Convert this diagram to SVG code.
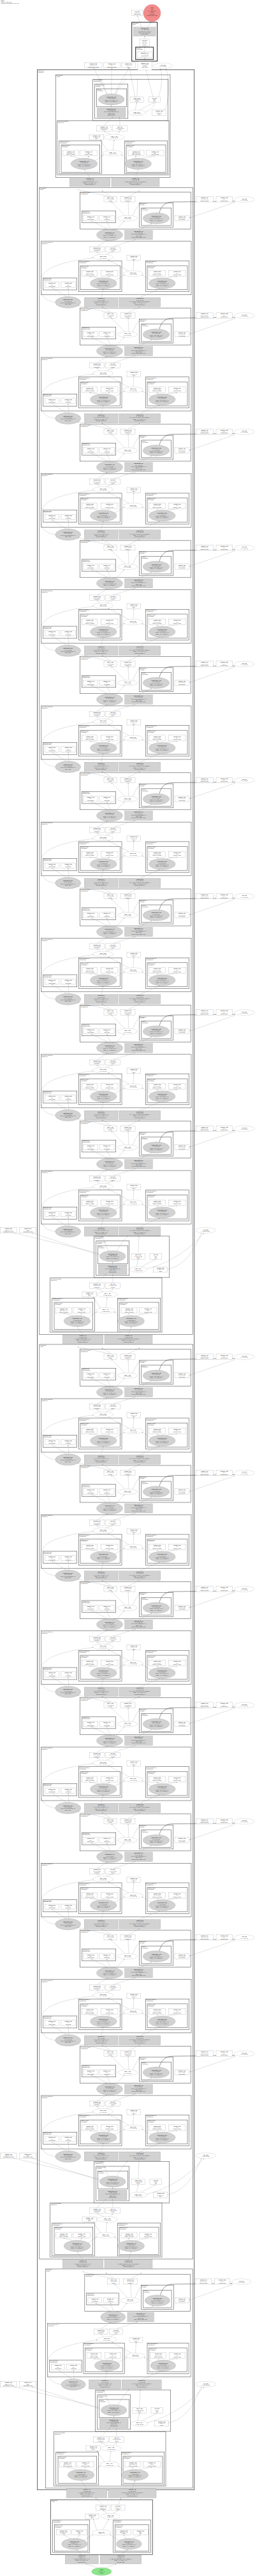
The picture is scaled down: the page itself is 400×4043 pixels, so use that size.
<svg xmlns="http://www.w3.org/2000/svg" width="400" height="4043" viewBox="0 0 400 4043">
<style>
.cl{fill:none;stroke:#555;stroke-width:.6}
.cm{fill:none;stroke:#444;stroke-width:.8}
.ck{fill:none;stroke:#222;stroke-width:1}
.bx{fill:#fff;stroke:#999;stroke-width:.3}
.gn{fill:#d2d2d2;stroke:#999;stroke-width:.3}
.wn{fill:#fff;stroke:#aaa;stroke-width:.3}
.ed path,path.ed{fill:none;stroke:#9a9a9a;stroke-width:.3;marker-end:url(#ah)}
.ed path.dk{stroke:#333;stroke-width:.5}
text{font-family:"Liberation Sans",Arial,sans-serif;fill:#222}
.t{font-size:1.9px;text-anchor:middle}
.b{font-weight:bold}
.lb{font-size:1.8px}
</style>
<defs>
<marker id="ah" viewBox="0 0 10 10" refX="9" refY="5" markerWidth="1.4" markerHeight="1.4" markerUnits="userSpaceOnUse" orient="auto"><path d="M0,1L10,5L0,9z" fill="#666"/></marker>

<g id="tA">
<rect class="cl" x="125.3" y="0" width="174" height="58"/>
<text class="lb"><tspan x="126.4" y="2.1">layer.block.residual</tspan><tspan x="126.4" y="4.1">(ResidualUnit)</tspan></text>
<rect class="cl" x="128.3" y="29.7" width="53.4" height="18.6"/>
<text class="lb"><tspan x="129.3" y="31.6">residual.norm</tspan><tspan x="129.3" y="33.5">(BatchNorm2d)</tspan></text>
<rect class="cl" x="218.3" y="17.3" width="53.4" height="37.7"/>
<text class="lb"><tspan x="219.3" y="19.2">residual.conv</tspan><tspan x="219.3" y="21.1">(Conv2d)</tspan></text>
<rect class="cl" x="221.7" y="25" width="46.6" height="27.7"/>
<text class="lb"><tspan x="222.7" y="26.9">conv.op</tspan><tspan x="222.7" y="28.8">(Conv2dOp)</tspan></text>
<g class="ed">
<path d="M173,7.3L122,-3.8"/><path d="M175,7.3L160,-1.9"/><path d="M200.5,7.3L219,-1.9"/>
<path d="M196,37L175,15.9"/><path d="M202,36.9L201,15.9"/>
<path d="M170,58.4L143,45.4"/><path d="M173,58.3L167.5,45.4"/><path d="M182,59.5L195,45.6"/>
<path d="M217.5,60L238,49.6"/>
<path class="dk" d="M250,32.8C252,24 258,15.7 270,15.7L368,14.6"/>
<path d="M370,15.8L297.5,40.5"/>
<path d="M208,37.4C212,29 215,22 220,17.8"/>
</g>
<g id="A_n1"><rect class="bx" x="163" y="7.3" width="20" height="8.4"/><text class="t"><tspan class="b" x="173" y="9.9">add_1_100</tspan><tspan x="173" y="12.2">(1, 64, 56, 56)</tspan><tspan x="173" y="14.5">Tensor</tspan></text></g>
<g id="A_n2"><rect class="bx" x="189" y="7.3" width="23" height="8.4"/><text class="t"><tspan class="b" x="200.5" y="9.9">Variable_101</tspan><tspan x="200.5" y="12.2">(1, 64, 56, 56)</tspan><tspan x="200.5" y="14.5">Parameter</tspan></text></g>
<g id="A_n3"><ellipse class="wn" cx="200" cy="41.3" rx="15.5" ry="4.5"/><text class="t"><tspan class="b" x="200" y="40.9">add_1_102</tspan><tspan x="200" y="43.2">(1, 64, 56, 56)</tspan></text></g>
<g id="A_n4"><rect class="bx" x="130.7" y="36.8" width="22.6" height="8.4"/><text class="t"><tspan class="b" x="142" y="39.4">Variable_103</tspan><tspan x="142" y="41.7">(64,)</tspan><tspan x="142" y="44">norm.weight</tspan></text></g>
<g id="A_n5"><rect class="bx" x="156" y="36.8" width="23.3" height="8.4"/><text class="t"><tspan class="b" x="167.6" y="39.4">Variable_104</tspan><tspan x="167.6" y="41.7">(64,)</tspan><tspan x="167.6" y="44">norm.bias</tspan></text></g>
<g id="A_n6"><ellipse class="gn" cx="245" cy="41.3" rx="20.7" ry="8.7"/><text class="t"><tspan class="b" x="245" y="38.4">Convolution_105</tspan><tspan x="245" y="40.7">(1, 64, 56, 56)</tspan><tspan x="245" y="43">kernel=(3, 3), pad=(1, 1)</tspan><tspan x="245" y="45.3">stride=(1, 1), groups=1</tspan></text></g>
<g id="A_n7"><rect class="bx" x="274" y="36.8" width="22.7" height="8.4"/><text class="t"><tspan class="b" x="285.3" y="39.4">Variable_106</tspan><tspan x="285.3" y="41.7">(64, 64, 3, 3)</tspan><tspan x="285.3" y="44">conv.weight</tspan></text></g>
<g id="A_n8"><rect class="bx" x="307.3" y="7.3" width="27" height="8.4"/><text class="t"><tspan class="b" x="320.8" y="9.9">Variable_107</tspan><tspan x="320.8" y="12.2">(64, 64, 1, 1)</tspan><tspan x="320.8" y="14.5">shortcut.weight</tspan></text></g>
<g id="A_n9"><rect class="bx" x="339" y="7.3" width="25.3" height="8.4"/><text class="t"><tspan class="b" x="351.6" y="9.9">Variable_108</tspan><tspan x="351.6" y="12.2">(64,)</tspan><tspan x="351.6" y="14.5">shortcut.bias</tspan></text></g>
<g id="A_n10"><ellipse class="wn" cx="383.3" cy="11.7" rx="16" ry="4.5"/><text class="t"><tspan class="b" x="383.3" y="11.3">relu_109</tspan><tspan x="383.3" y="13.6">(1, 64, 56, 56)</tspan></text></g>
<g id="A_n11"><ellipse class="gn" cx="172" cy="67.3" rx="20.5" ry="9"/><text class="t"><tspan class="b" x="172" y="64.4">Convolution_110</tspan><tspan x="172" y="66.7">(1, 64, 56, 56)</tspan><tspan x="172" y="69">kernel=(1, 1), pad=(0, 0)</tspan><tspan x="172" y="71.3">stride=(1, 1), groups=1</tspan></text></g>
<g id="A_n12"><rect class="gn" x="195.7" y="60" width="43.6" height="14.7"/><text class="t"><tspan class="b" x="217.5" y="62.5">BatchNorm_111</tspan><tspan x="217.5" y="64.8">(1, 64, 56, 56)</tspan><tspan x="217.5" y="67.1">eps=1e-05, momentum=0.1</tspan><tspan x="217.5" y="69.4">affine=True</tspan><tspan x="217.5" y="71.7">track_running_stats=True</tspan></text></g>
</g>

<g id="tB">
<rect class="cl" x="64.3" y="0" width="235.7" height="84"/>
<text class="lb"><tspan x="65.4" y="2.1">layer.block.bottleneck</tspan><tspan x="65.4" y="4.1">(Bottleneck)</tspan></text>
<rect class="cl" x="123.3" y="30.7" width="67.7" height="48.3"/>
<text class="lb"><tspan x="124.3" y="32.6">bottleneck.branch_a</tspan><tspan x="124.3" y="34.5">(ConvBranch)</tspan></text>
<rect class="cl" x="126" y="38.3" width="62.3" height="37.7"/>
<text class="lb"><tspan x="127" y="40.2">branch_a.conv</tspan><tspan x="127" y="42.1">(Conv2dOp)</tspan></text>
<rect class="cl" x="228.3" y="30.7" width="68.4" height="48.3"/>
<text class="lb"><tspan x="229.3" y="32.6">bottleneck.branch_b</tspan><tspan x="229.3" y="34.5">(ConvBranch)</tspan></text>
<rect class="cl" x="231" y="38.3" width="63" height="37.7"/>
<text class="lb"><tspan x="232" y="40.2">branch_b.conv</tspan><tspan x="232" y="42.1">(Conv2dOp)</tspan></text>
<rect class="cl" x="67.3" y="57.4" width="53.4" height="18.9"/>
<text class="lb"><tspan x="68.3" y="59.3">bottleneck.norm</tspan><tspan x="68.3" y="61.2">(BatchNorm2d)</tspan></text>
<g class="ed">
<path d="M152,8.4L168,-1.4"/><path d="M177,8.4L212,-2.5"/>
<path d="M157,20.8L152,16.9"/><path d="M166,20.7L177,16.9"/>
<path d="M202,46.4L170,29.3"/><path d="M209,46.2L209.8,30.2"/>
<path d="M156,57.6L140.7,55.2"/><path d="M168,57.6L171.7,55.2"/><path d="M180,61.5L195,53"/>
<path d="M249,57.6L246.3,55.2"/><path d="M260,57.6L277.7,55.2"/><path d="M238,61.5L223,53"/>
<path d="M104,86.8L81.5,72.6"/><path d="M108,86.8L107,72.6"/>
<path d="M88,96C66,93 63,82 64,62C65,44 90,33 145.8,26"/>
<path d="M158.7,88.3L162,74.9"/><path d="M219,88.3L250,74.9"/>
</g>
<g id="B_n1"><rect class="bx" x="140.7" y="8.4" width="22.6" height="8.4"/><text class="t"><tspan class="b" x="152" y="11">Variable_200</tspan><tspan x="152" y="13.3">(1, 64, 56, 56)</tspan><tspan x="152" y="15.6">Parameter</tspan></text></g>
<g id="B_n2"><rect class="bx" x="165.7" y="8.4" width="22.6" height="8.4"/><text class="t"><tspan class="b" x="177" y="11">relu_201</tspan><tspan x="177" y="13.3">(1, 64, 56, 56)</tspan><tspan x="177" y="15.6">Tensor</tspan></text></g>
<g id="B_n3"><ellipse class="wn" cx="161.7" cy="25" rx="16" ry="4.5"/><text class="t"><tspan class="b" x="161.7" y="24.6">add_2_202</tspan><tspan x="161.7" y="26.9">(1, 64, 56, 56)</tspan></text></g>
<g id="B_n4"><rect class="bx" x="199" y="21.7" width="21.7" height="8.4"/><text class="t"><tspan class="b" x="209.8" y="24.3">Variable_203</tspan><tspan x="209.8" y="26.6">(1, 64, 1, 1)</tspan><tspan x="209.8" y="28.9">scale</tspan></text></g>
<g id="B_n5"><ellipse class="wn" cx="209" cy="50.7" rx="15.5" ry="4.5"/><text class="t"><tspan class="b" x="209" y="50.3">add_2_204</tspan><tspan x="209" y="52.6">(1, 64, 56, 56)</tspan></text></g>
<g id="B_n6"><rect class="bx" x="128.7" y="46" width="24" height="9"/><text class="t"><tspan class="b" x="140.7" y="48.7">Variable_205</tspan><tspan x="140.7" y="51">(64, 64, 1, 1)</tspan><tspan x="140.7" y="53.3">branch_a.weight</tspan></text></g>
<g id="B_n7"><rect class="bx" x="158.3" y="46" width="26.7" height="9"/><text class="t"><tspan class="b" x="171.7" y="48.7">Variable_206</tspan><tspan x="171.7" y="51">(64,)</tspan><tspan x="171.7" y="53.3">branch_a.bias</tspan></text></g>
<g id="B_n8"><ellipse class="gn" cx="162.3" cy="66" rx="20.7" ry="8.7"/><text class="t"><tspan class="b" x="162.3" y="63.1">Convolution_207</tspan><tspan x="162.3" y="65.4">(1, 64, 56, 56)</tspan><tspan x="162.3" y="67.7">kernel=(1, 1), pad=(0, 0)</tspan><tspan x="162.3" y="70">stride=(1, 1), groups=1</tspan></text></g>
<g id="B_n9"><rect class="bx" x="233.3" y="46" width="26" height="9"/><text class="t"><tspan class="b" x="246.3" y="48.7">Variable_208</tspan><tspan x="246.3" y="51">(64, 64, 3, 3)</tspan><tspan x="246.3" y="53.3">branch_b.weight</tspan></text></g>
<g id="B_n10"><rect class="bx" x="264.3" y="46" width="26.7" height="9"/><text class="t"><tspan class="b" x="277.7" y="48.7">Variable_209</tspan><tspan x="277.7" y="51">(64,)</tspan><tspan x="277.7" y="53.3">branch_b.bias</tspan></text></g>
<g id="B_n11"><ellipse class="gn" cx="254.3" cy="66" rx="20.7" ry="8.7"/><text class="t"><tspan class="b" x="254.3" y="63.1">Convolution_210</tspan><tspan x="254.3" y="65.4">(1, 64, 56, 56)</tspan><tspan x="254.3" y="67.7">kernel=(3, 3), pad=(1, 1)</tspan><tspan x="254.3" y="70">stride=(1, 1), groups=1</tspan></text></g>
<g id="B_n12"><rect class="bx" x="70.7" y="64" width="21.6" height="8.4"/><text class="t"><tspan class="b" x="81.5" y="66.6">Variable_211</tspan><tspan x="81.5" y="68.9">(64,)</tspan><tspan x="81.5" y="71.2">norm.weight</tspan></text></g>
<g id="B_n13"><rect class="bx" x="95.7" y="64" width="22.6" height="8.4"/><text class="t"><tspan class="b" x="107" y="66.6">Variable_212</tspan><tspan x="107" y="68.9">(64,)</tspan><tspan x="107" y="71.2">norm.bias</tspan></text></g>
<g id="B_n14"><ellipse class="gn" cx="106.7" cy="95.7" rx="20" ry="9"/><text class="t"><tspan class="b" x="106.7" y="92.8">BatchNorm_213</tspan><tspan x="106.7" y="95.1">(1, 64, 56, 56)</tspan><tspan x="106.7" y="97.4">eps=1e-05, momentum=0.1</tspan><tspan x="106.7" y="99.7">affine=True</tspan></text></g>
<g id="B_n15"><rect class="gn" x="132.3" y="88.3" width="52.7" height="14.7"/><text class="t"><tspan class="b" x="158.7" y="90.8">Conv2d_214</tspan><tspan x="158.7" y="93.1">(1, 64, 56, 56)</tspan><tspan x="158.7" y="95.4">in=64, out=64, kernel=(1, 1)</tspan><tspan x="158.7" y="97.7">stride=(1, 1), pad=(0, 0)</tspan><tspan x="158.7" y="100">Conv2d (branch_a)</tspan></text></g>
<g id="B_n16"><rect class="gn" x="186.7" y="88.3" width="65" height="14.7"/><text class="t"><tspan class="b" x="219.2" y="90.8">Conv2d_215</tspan><tspan x="219.2" y="93.1">(1, 64, 56, 56)</tspan><tspan x="219.2" y="95.4">in=64, out=64, kernel=(3, 3), groups=1</tspan><tspan x="219.2" y="97.7">stride=(1, 1), pad=(1, 1)</tspan><tspan x="219.2" y="100">Conv2d (branch_b)</tspan></text></g>
</g>

<g id="tC">
<rect class="cl" x="147.7" y="0" width="118" height="65"/>
<text class="lb"><tspan x="148.8" y="2.1">layer.downsample</tspan><tspan x="148.8" y="4.1">(Downsample)</tspan></text>
<rect class="cl" x="150.7" y="7.7" width="52" height="54"/>
<text class="lb"><tspan x="151.7" y="9.6">downsample.conv</tspan><tspan x="151.7" y="11.5">(ConvBN)</tspan></text>
<rect class="cl" x="153.3" y="15" width="47.4" height="28.3"/>
<text class="lb"><tspan x="154.3" y="16.9">conv.op</tspan><tspan x="154.3" y="18.8">(Conv2dOp)</tspan></text>
<g class="ed">
<path d="M176.7,45L176.7,40.6"/>
<path d="M183,23.6C189,12 196,5 200,-0.5"/><path d="M170,23.4L160,-0.5"/>
<path d="M216.8,27.7L218,-0.5"/>
<path d="M214,48.3L216.8,36.5"/><path d="M221,48.4L244,36.5"/>
</g>
<g id="C_n1"><ellipse class="gn" cx="176.7" cy="31.7" rx="20.3" ry="8.7"/><text class="t"><tspan class="b" x="176.7" y="28.8">Convolution_300</tspan><tspan x="176.7" y="31.1">(1, 128, 28, 28)</tspan><tspan x="176.7" y="33.4">kernel=(1, 1), pad=(0, 0)</tspan><tspan x="176.7" y="35.7">stride=(2, 2), groups=1</tspan></text></g>
<g id="C_n2"><rect class="gn" x="154.3" y="45" width="44.7" height="15"/><text class="t"><tspan class="b" x="176.7" y="47.5">BatchNorm_301</tspan><tspan x="176.7" y="49.8">(1, 128, 28, 28)</tspan><tspan x="176.7" y="52.1">eps=1e-05, momentum=0.1</tspan><tspan x="176.7" y="54.4">affine=True</tspan><tspan x="176.7" y="56.7">BatchNorm2d</tspan></text></g>
<g id="C_n3"><rect class="bx" x="206" y="27.7" width="21.7" height="8.6"/><text class="t"><tspan class="b" x="216.8" y="30.3">add_3_302</tspan><tspan x="216.8" y="32.6">(1, 128, 28, 28)</tspan><tspan x="216.8" y="34.9">Tensor</tspan></text></g>
<g id="C_n4"><rect class="bx" x="235" y="27.7" width="18.3" height="8.6"/><text class="t"><tspan class="b" x="244.2" y="30.3">Var_303</tspan><tspan x="244.2" y="32.6">(128,)</tspan><tspan x="244.2" y="34.9">bias</tspan></text></g>
<g id="C_n5"><ellipse class="wn" cx="216.7" cy="52.7" rx="13.5" ry="4.5"/><text class="t"><tspan class="b" x="216.7" y="52.3">add_3_304</tspan><tspan x="216.7" y="54.6">(1, 128, 28, 28)</tspan></text></g>
<g id="C_n6"><rect class="bx" x="240.7" y="48.5" width="22" height="8.4"/><text class="t"><tspan class="b" x="251.7" y="51.1">Variable_305</tspan><tspan x="251.7" y="53.4">(1, 128, 1, 1)</tspan><tspan x="251.7" y="55.7">scale</tspan></text></g>
</g>

<g id="tCo">
<g class="ed">
<path d="M156,27.5L22,-5"/><path d="M157,30L50,-5"/>
<path d="M262.7,52C288,47 302,28 316,-4.8"/><path d="M230,51.5C268,42 298,20 320,-4.6"/>
</g>
<g id="Co_n1"><rect class="bx" x="0.7" y="-13.3" width="25.3" height="8.3"/><text class="t"><tspan class="b" x="13.3" y="-10.7">Variable_306</tspan><tspan x="13.3" y="-8.4">(128, 64, 1, 1)</tspan><tspan x="13.3" y="-6.1">downsample.weight</tspan></text></g>
<g id="Co_n2"><rect class="bx" x="30.7" y="-13.3" width="26" height="8.3"/><text class="t"><tspan class="b" x="43.7" y="-10.7">Variable_307</tspan><tspan x="43.7" y="-8.4">(128,)</tspan><tspan x="43.7" y="-6.1">downsample.bias</tspan></text></g>
<g id="Co_n3"><ellipse class="wn" cx="322.7" cy="-9" rx="16" ry="4.5"/><text class="t"><tspan class="b" x="322.7" y="-9.4">relu_308</tspan><tspan x="322.7" y="-7.1">(1, 128, 28, 28)</tspan></text></g>
</g>

<g id="tP">
<rect class="cl" x="78.7" y="0" width="175.3" height="85.3"/>
<text class="lb"><tspan x="79.8" y="2.1">layer.block.transition</tspan><tspan x="79.8" y="4.1">(Bottleneck)</tspan></text>
<rect class="cl" x="81.7" y="31.7" width="66.6" height="51.6"/>
<text class="lb"><tspan x="82.7" y="33.6">transition.branch_a</tspan><tspan x="82.7" y="35.5">(ConvBranch)</tspan></text>
<rect class="cl" x="85" y="38.3" width="60.7" height="42.7"/>
<text class="lb"><tspan x="86" y="40.2">branch_a.conv</tspan><tspan x="86" y="42.1">(Conv2dOp)</tspan></text>
<rect class="cl" x="184.3" y="31.7" width="67.4" height="51.6"/>
<text class="lb"><tspan x="185.3" y="33.6">transition.branch_b</tspan><tspan x="185.3" y="35.5">(ConvBranch)</tspan></text>
<rect class="cl" x="187" y="38.3" width="62" height="42.7"/>
<text class="lb"><tspan x="188" y="40.2">branch_b.conv</tspan><tspan x="188" y="42.1">(Conv2dOp)</tspan></text>
<g class="ed">
<path d="M177,7.7L176.7,-5.5"/><path d="M152,7.7L166,-5.5"/>
<path d="M163,21.8L152,16.9"/><path d="M172,21.6L177,16.9"/>
<path d="M166,46.6L168,30.5"/><path d="M158,47.5L146,30.2"/>
<path d="M115,59.2L99.8,55.5"/><path d="M127,59.2L128,55.5"/><path d="M138,63L151.5,53.5"/>
<path d="M200,59.2L202.5,55.5"/><path d="M212,59.2L232,55.5"/><path d="M191,63L179.5,53.5"/>
<path d="M130,89.3L121,76.6"/><path d="M201.5,89.3L205.7,76.6"/>
</g>
<g id="P_n1"><rect class="bx" x="140.7" y="7.7" width="22.6" height="9"/><text class="t"><tspan class="b" x="152" y="10.4">Variable_400</tspan><tspan x="152" y="12.7">(1, 128, 28, 28)</tspan><tspan x="152" y="15">Parameter</tspan></text></g>
<g id="P_n2"><rect class="bx" x="165.7" y="7.7" width="22.6" height="9"/><text class="t"><tspan class="b" x="177" y="10.4">relu_401</tspan><tspan x="177" y="12.7">(1, 128, 28, 28)</tspan><tspan x="177" y="15">Tensor</tspan></text></g>
<g id="P_n3"><ellipse class="wn" cx="168.3" cy="26" rx="16" ry="4.5"/><text class="t"><tspan class="b" x="168.3" y="25.6">add_4_402</tspan><tspan x="168.3" y="27.9">(1, 128, 28, 28)</tspan></text></g>
<g id="P_n4"><rect class="bx" x="129" y="22" width="22.7" height="8"/><text class="t"><tspan class="b" x="140.3" y="24.4">Variable_403</tspan><tspan x="140.3" y="26.6">(1, 128, 1, 1)</tspan><tspan x="140.3" y="28.8">scale</tspan></text></g>
<g id="P_n5"><ellipse class="wn" cx="165.7" cy="51" rx="15" ry="4.5"/><text class="t"><tspan class="b" x="165.7" y="50.6">add_4_404</tspan><tspan x="165.7" y="52.9">(1, 128, 28, 28)</tspan></text></g>
<g id="P_n6"><rect class="bx" x="87.3" y="46.7" width="25" height="8.6"/><text class="t"><tspan class="b" x="99.8" y="49.3">Variable_405</tspan><tspan x="99.8" y="51.6">(128, 128, 1, 1)</tspan><tspan x="99.8" y="53.9">branch_a.weight</tspan></text></g>
<g id="P_n7"><rect class="bx" x="114.3" y="46.7" width="27.4" height="8.6"/><text class="t"><tspan class="b" x="128" y="49.3">Variable_406</tspan><tspan x="128" y="51.6">(128,)</tspan><tspan x="128" y="53.9">branch_a.bias</tspan></text></g>
<g id="P_n8"><ellipse class="gn" cx="121" cy="67.7" rx="20.7" ry="8.7"/><text class="t"><tspan class="b" x="121" y="64.8">Convolution_407</tspan><tspan x="121" y="67.1">(1, 128, 28, 28)</tspan><tspan x="121" y="69.4">kernel=(1, 1), pad=(0, 0)</tspan><tspan x="121" y="71.7">stride=(1, 1), groups=1</tspan></text></g>
<g id="P_n9"><rect class="bx" x="190" y="46.7" width="25" height="8.6"/><text class="t"><tspan class="b" x="202.5" y="49.3">Variable_408</tspan><tspan x="202.5" y="51.6">(128, 128, 3, 3)</tspan><tspan x="202.5" y="53.9">branch_b.weight</tspan></text></g>
<g id="P_n10"><rect class="bx" x="218.3" y="46.7" width="27.7" height="8.6"/><text class="t"><tspan class="b" x="232.2" y="49.3">Variable_409</tspan><tspan x="232.2" y="51.6">(128,)</tspan><tspan x="232.2" y="53.9">branch_b.bias</tspan></text></g>
<g id="P_n11"><ellipse class="gn" cx="205.7" cy="67.7" rx="20.7" ry="8.7"/><text class="t"><tspan class="b" x="205.7" y="64.8">Convolution_410</tspan><tspan x="205.7" y="67.1">(1, 128, 28, 28)</tspan><tspan x="205.7" y="69.4">kernel=(3, 3), pad=(1, 1)</tspan><tspan x="205.7" y="71.7">stride=(1, 1), groups=1</tspan></text></g>
<g id="P_n12"><rect class="gn" x="98.3" y="89.3" width="63.4" height="14.3"/><text class="t"><tspan class="b" x="130" y="91.8">Conv2d_411</tspan><tspan x="130" y="94.1">(1, 128, 28, 28)</tspan><tspan x="130" y="96.4">in=128, out=128, kernel=(1, 1)</tspan><tspan x="130" y="98.7">stride=(1, 1), pad=(0, 0)</tspan><tspan x="130" y="101">Conv2d (branch_a)</tspan></text></g>
<g id="P_n13"><rect class="gn" x="164" y="89.3" width="75" height="14.3"/><text class="t"><tspan class="b" x="201.5" y="91.8">Conv2d_412</tspan><tspan x="201.5" y="94.1">(1, 128, 28, 28)</tspan><tspan x="201.5" y="96.4">in=128, out=128, kernel=(3, 3), groups=1</tspan><tspan x="201.5" y="98.7">stride=(1, 1), pad=(1, 1)</tspan><tspan x="201.5" y="101">Conv2d (branch_b)</tspan></text></g>
</g>
</defs>

<text class="lb" id="title"><tspan x="1.5" y="2.2" font-weight="bold">model</tspan><tspan x="1.5" y="4.2">input: (1, 3, 224, 224)</tspan><tspan x="1.5" y="6.2">parameters: 23,512,130, ops: 4.1G</tspan></text>

<g id="clusters">
<rect class="cm" x="58.5" y="109.4" width="246.2" height="3798.3"/>
<text class="lb"><tspan x="59.6" y="111.5">model.body</tspan><tspan x="59.6" y="113.5">(Backbone)</tspan></text>
<rect class="cl" x="87.5" y="117.3" width="179.5" height="161"/>
<text class="lb"><tspan x="88.6" y="119.4">body.stage1</tspan><tspan x="88.6" y="121.4">(Stage)</tspan></text>
<rect class="cl" x="61.3" y="294.3" width="241" height="1800"/>
<text class="lb"><tspan x="62.4" y="296.4">body.stage2</tspan><tspan x="62.4" y="298.4">(Stage)</tspan></text>
<rect class="cl" x="61.7" y="2110" width="241" height="1435.7"/>
<text class="lb"><tspan x="62.8" y="2112.1">body.stage3</tspan><tspan x="62.8" y="2114.1">(Stage)</tspan></text>
<rect class="cl" x="71.3" y="3561" width="231" height="344"/>
<text class="lb"><tspan x="72.4" y="3563.1">body.stage4</tspan><tspan x="72.4" y="3565.1">(Stage)</tspan></text>
</g>

<g id="stem">
<g class="ed" id="stem_edges">
<path d="M222,42.7L215.5,24.5"/><path d="M232,42.7L236.5,34.2"/>
<path d="M226.8,61L226.8,56.9"/><path d="M227,81.7L226.8,72.9"/><path d="M227.2,96.7L227,90.9"/>
<path d="M168,148L147,106.9"/><path d="M174.7,147.3L175.3,106.9"/>
<path d="M181,148C186,130 198,118 201.5,106.9"/>
<path d="M212,152L203,106.9"/><path d="M240,152L229,110.2"/>
<path d="M258,173C265,160 268,125 260,107.6"/>
<path d="M228,176C245,170 258,140 252,107.8"/>
</g>
<g id="input"><circle cx="238.5" cy="20.5" r="13.5" fill="#f28b8b" stroke="#c66" stroke-width=".3"/><text class="t"><tspan class="b" x="238.5" y="13.4">input</tspan><tspan x="238.5" y="15.7">data</tspan><tspan x="238.5" y="18">(1, 3, 224, 224)</tspan><tspan x="238.5" y="20.3">float32</tspan><tspan x="238.5" y="22.6">normalized</tspan><tspan x="238.5" y="24.9">requires_grad=False</tspan></text></g>
<g id="stem_v"><rect class="bx" x="206.7" y="16" width="17.3" height="8.3"/><text class="t"><tspan class="b" x="215.3" y="18.6">Var_001</tspan><tspan x="215.3" y="20.9">(64, 3, 7, 7)</tspan><tspan x="215.3" y="23.2">stem.weight</tspan></text></g>
<rect class="ck" x="206.7" y="35" width="40" height="61"/>
<text class="lb"><tspan x="207.7" y="36.9">model.stem</tspan><tspan x="207.7" y="38.8">(Stem)</tspan></text>
<g id="stem_conv"><rect class="gn" x="209.3" y="42.7" width="35" height="14"/><text class="t"><tspan class="b" x="226.8" y="45.1">Conv2d_002</tspan><tspan x="226.8" y="47.4">(1, 64, 112, 112)</tspan><tspan x="226.8" y="49.7">in=3, out=64, k=7, s=2</tspan><tspan x="226.8" y="52">pad=(3, 3), bias=False</tspan><tspan x="226.8" y="54.3">Conv2d (stem)</tspan></text></g>
<g id="stem_bn"><rect class="bx" x="219" y="61" width="15.3" height="11.7"/><text class="t"><tspan class="b" x="226.7" y="63.6">relu_003</tspan><tspan x="226.7" y="65.9">(1, 64,</tspan><tspan x="226.7" y="68.2">112, 112)</tspan><tspan x="226.7" y="70.5">Tensor</tspan></text></g>
<rect class="ck" x="212.7" y="74" width="28" height="19.3"/>
<text class="lb"><tspan x="213.7" y="75.9">stem.pool</tspan><tspan x="213.7" y="77.8">(MaxPool2d)</tspan></text>
<g id="stem_pool"><rect class="bx" x="215" y="81.7" width="24" height="9"/><text class="t"><tspan class="b" x="227" y="84.4">maxpool_004</tspan><tspan x="227" y="86.7">(1, 64, 56, 56)</tspan><tspan x="227" y="89">k=3, s=2, p=1</tspan></text></g>
<g id="T1"><rect class="bx" x="132.7" y="98.3" width="27.3" height="8.4"/><text class="t"><tspan class="b" x="146.3" y="100.9">Variable_005</tspan><tspan x="146.3" y="103.2">(64, 64, 1, 1)</tspan><tspan x="146.3" y="105.5">downsample.weight</tspan></text></g>
<g id="T2"><rect class="bx" x="162.3" y="98.3" width="26" height="8.4"/><text class="t"><tspan class="b" x="175.3" y="100.9">Variable_006</tspan><tspan x="175.3" y="103.2">(64,)</tspan><tspan x="175.3" y="105.5">downsample.bias</tspan></text></g>
<g id="T3"><rect class="bx" x="190.7" y="98.3" width="21.6" height="8.4"/><text class="t"><tspan class="b" x="201.5" y="100.9">Variable_007</tspan><tspan x="201.5" y="103.2">(1, 64, 1, 1)</tspan><tspan x="201.5" y="105.5">scale</tspan></text></g>
<g id="T4"><rect class="bx" x="216" y="96.7" width="22.3" height="13.3"/><text class="t"><tspan class="b" x="227.2" y="99.5">maxpool_out</tspan><tspan x="227.2" y="101.8">(1, 64, 56, 56)</tspan><tspan x="227.2" y="104.1">Tensor</tspan><tspan x="227.2" y="106.4">stem.output</tspan></text></g>
<g id="Te"><ellipse class="wn" cx="255.7" cy="103.3" rx="15.2" ry="4.5"/><text class="t"><tspan class="b" x="255.7" y="102.9">relu_008</tspan><tspan x="255.7" y="105.2">(1, 64, 56, 56)</tspan></text></g>
</g>

<g id="stage1">
<use id="s1_c" href="#tC" transform="translate(-2,124.3)"/>
<use id="s1_p" href="#tP" transform="translate(11,189.3)"/>
</g>

<g id="stage2">
<use id="s2_a0" href="#tA" y="301.3"/><use id="s2_b0" href="#tB" y="378.7"/>
<use id="s2_a1" href="#tA" y="483.6"/><use id="s2_b1" href="#tB" y="561"/>
<use id="s2_a2" href="#tA" y="665.9"/><use id="s2_b2" href="#tB" y="743.3"/>
<use id="s2_a3" href="#tA" y="848.2"/><use id="s2_b3" href="#tB" y="925.6"/>
<use id="s2_a4" href="#tA" y="1030.5"/><use id="s2_b4" href="#tB" y="1107.9"/>
<use id="s2_a5" href="#tA" y="1212.8"/><use id="s2_b5" href="#tB" y="1290.2"/>
<use id="s2_a6" href="#tA" y="1395.1"/><use id="s2_b6" href="#tB" y="1472.5"/>
<use id="s2_a7" href="#tA" y="1577.4"/><use id="s2_b7" href="#tB" y="1654.8"/>
<use id="s2_a8" href="#tA" y="1759.7"/><use id="s2_b8" href="#tB" y="1837.1"/>
<use id="s2_c" href="#tC" y="1940"/><use id="s2_co" href="#tCo" y="1940"/>
<use id="s2_p" href="#tP" y="2005.7"/>
</g>

<g id="stage3">
<use id="s3_a0" href="#tA" y="2117.7"/><use id="s3_b0" href="#tB" y="2195.1"/>
<use id="s3_a1" href="#tA" y="2300"/><use id="s3_b1" href="#tB" y="2377.4"/>
<use id="s3_a2" href="#tA" y="2482.3"/><use id="s3_b2" href="#tB" y="2559.7"/>
<use id="s3_a3" href="#tA" y="2664.6"/><use id="s3_b3" href="#tB" y="2742"/>
<use id="s3_a4" href="#tA" y="2846.9"/><use id="s3_b4" href="#tB" y="2924.3"/>
<use id="s3_a5" href="#tA" y="3029.2"/><use id="s3_b5" href="#tB" y="3106.6"/>
<use id="s3_a6" href="#tA" y="3211.5"/><use id="s3_b6" href="#tB" y="3288.9"/>
<use id="s3_c" href="#tC" y="3392.3"/><use id="s3_co" href="#tCo" y="3392.3"/>
<use id="s3_p" href="#tP" y="3457.3"/>
</g>

<g id="stage4">
<use id="s4_a0" href="#tA" transform="translate(13.4,3569.3) scale(0.953,1)"/>
<use id="s4_b0" href="#tB" transform="translate(13.4,3646.7) scale(0.953,1)"/>
<use id="s4_c" href="#tC" transform="translate(2,3751)"/><use id="s4_co" href="#tCo" transform="translate(0,3751)"/>
<use id="s4_p" href="#tP" transform="translate(6,3816.7)"/>
</g>

<g id="head">
<g class="ed" id="head_edges">
<path d="M161.7,3931.7L150,3920.5"/><path d="M185.2,3931.7L190,3920.5"/>
<path d="M169,3945L161.7,3940.2"/><path d="M177,3945L185.2,3940.2"/>
<path d="M161,3970.5L171,3953.8"/><path d="M152,3971L146,3953.5"/>
<path d="M111,3984.3L99.5,3978.5"/><path d="M121,3984.3L124.3,3978.5"/><path d="M132,3987L146,3978"/>
<path d="M198,3984.3L194,3978.5"/><path d="M208,3984.3L220.3,3978.5"/><path d="M186,3987L172.5,3978"/>
<path d="M128.3,4010L120,4001.6"/><path d="M189.5,4010L200,4001.6"/>
<path d="M153,4030.2L135,4024.2"/><path d="M165,4030.2L182,4024.2"/>
</g>
<rect class="cm" x="79.3" y="3923.3" width="160" height="86"/>
<text class="lb"><tspan x="80.4" y="3925.4">model.head</tspan><tspan x="80.4" y="3927.4">(Head)</tspan></text>
<rect class="cl" x="82.7" y="3955" width="58" height="51"/>
<text class="lb"><tspan x="83.7" y="3956.9">head.branch_a</tspan><tspan x="83.7" y="3958.8">(ConvBranch)</tspan></text>
<rect class="cl" x="85.3" y="3962.7" width="52.7" height="41.3"/>
<text class="lb"><tspan x="86.3" y="3964.6">branch_a.conv</tspan><tspan x="86.3" y="3966.5">(Conv2dOp)</tspan></text>
<rect class="cl" x="177.7" y="3955" width="59" height="51"/>
<text class="lb"><tspan x="178.7" y="3956.9">head.branch_b</tspan><tspan x="178.7" y="3958.8">(ConvBranch)</tspan></text>
<rect class="cl" x="180.3" y="3962.7" width="53" height="41.3"/>
<text class="lb"><tspan x="181.3" y="3964.6">branch_b.conv</tspan><tspan x="181.3" y="3966.5">(Conv2dOp)</tspan></text>
<g id="H_n1"><rect class="bx" x="150.7" y="3931.7" width="22" height="8.3"/><text class="t"><tspan class="b" x="161.7" y="3934.3">Variable_900</tspan><tspan x="161.7" y="3936.6">(1, 256, 7, 7)</tspan><tspan x="161.7" y="3938.9">Parameter</tspan></text></g>
<g id="H_n2"><rect class="bx" x="174.3" y="3931.7" width="21.7" height="8.3"/><text class="t"><tspan class="b" x="185.2" y="3934.3">relu_901</tspan><tspan x="185.2" y="3936.6">(1, 256, 7, 7)</tspan><tspan x="185.2" y="3938.9">Tensor</tspan></text></g>
<g id="H_n3"><ellipse class="wn" cx="173.3" cy="3949.3" rx="15" ry="4.5"/><text class="t"><tspan class="b" x="173.3" y="3948.9">add_9_902</tspan><tspan x="173.3" y="3951.2">(1, 256, 7, 7)</tspan></text></g>
<g id="H_n4"><rect class="bx" x="134" y="3945.7" width="21" height="7.6"/><text class="t"><tspan class="b" x="144.5" y="3948">Variable_903</tspan><tspan x="144.5" y="3950.1">(1, 256, 1, 1)</tspan><tspan x="144.5" y="3952.2">scale</tspan></text></g>
<g id="H_n5"><ellipse class="wn" cx="159.3" cy="3975" rx="15" ry="4.5"/><text class="t"><tspan class="b" x="159.3" y="3974.6">add_9_904</tspan><tspan x="159.3" y="3976.9">(1, 256, 7, 7)</tspan></text></g>
<g id="H_n6"><rect class="bx" x="88.3" y="3970.7" width="22.4" height="7.6"/><text class="t"><tspan class="b" x="99.5" y="3973">Variable_905</tspan><tspan x="99.5" y="3975.1">(256, 256, 1, 1)</tspan><tspan x="99.5" y="3977.2">weight</tspan></text></g>
<g id="H_n7"><rect class="bx" x="112.7" y="3970.7" width="23.3" height="7.6"/><text class="t"><tspan class="b" x="124.3" y="3973">Variable_906</tspan><tspan x="124.3" y="3975.1">(256,)</tspan><tspan x="124.3" y="3977.2">bias</tspan></text></g>
<g id="H_n8"><ellipse class="gn" cx="116.7" cy="3992.7" rx="20" ry="8.7"/><text class="t"><tspan class="b" x="116.7" y="3989.8">Convolution_907</tspan><tspan x="116.7" y="3992.1">(1, 256, 7, 7)</tspan><tspan x="116.7" y="3994.4">kernel=(1, 1), pad=(0, 0)</tspan><tspan x="116.7" y="3996.7">stride=(1, 1), groups=1</tspan></text></g>
<g id="H_n9"><rect class="bx" x="182.3" y="3970.7" width="23.4" height="7.6"/><text class="t"><tspan class="b" x="194" y="3973">Variable_908</tspan><tspan x="194" y="3975.1">(256, 256, 3, 3)</tspan><tspan x="194" y="3977.2">weight</tspan></text></g>
<g id="H_n10"><rect class="bx" x="208.3" y="3970.7" width="24" height="7.6"/><text class="t"><tspan class="b" x="220.3" y="3973">Variable_909</tspan><tspan x="220.3" y="3975.1">(256,)</tspan><tspan x="220.3" y="3977.2">bias</tspan></text></g>
<g id="H_n11"><ellipse class="gn" cx="202.3" cy="3992.7" rx="20" ry="8.7"/><text class="t"><tspan class="b" x="202.3" y="3989.8">Convolution_910</tspan><tspan x="202.3" y="3992.1">(1, 256, 7, 7)</tspan><tspan x="202.3" y="3994.4">kernel=(3, 3), pad=(1, 1)</tspan><tspan x="202.3" y="3996.7">stride=(1, 1), groups=1</tspan></text></g>
<g id="H_n12"><rect class="gn" x="102.3" y="4010" width="52" height="14"/><text class="t"><tspan class="b" x="128.3" y="4012.4">Conv2d_911</tspan><tspan x="128.3" y="4014.7">(1, 256, 7, 7)</tspan><tspan x="128.3" y="4017">in=256, out=256, kernel=(1, 1)</tspan><tspan x="128.3" y="4019.3">stride=(1, 1), pad=(0, 0)</tspan><tspan x="128.3" y="4021.6">Conv2d (head)</tspan></text></g>
<g id="H_n13"><rect class="gn" x="157.3" y="4010" width="64.4" height="14"/><text class="t"><tspan class="b" x="189.5" y="4012.4">Conv2d_912</tspan><tspan x="189.5" y="4014.7">(1, 256, 7, 7)</tspan><tspan x="189.5" y="4017">in=256, out=256, kernel=(3, 3), groups=1</tspan><tspan x="189.5" y="4019.3">stride=(1, 1), pad=(1, 1)</tspan><tspan x="189.5" y="4021.6">Conv2d (head)</tspan></text></g>
<g id="output"><ellipse cx="159.3" cy="4036" rx="15.5" ry="6" fill="#8ce68c" stroke="#5a5" stroke-width=".3"/><text class="t"><tspan class="b" x="159.3" y="4034.4">output</tspan><tspan x="159.3" y="4036.7">(1, 256, 7, 7)</tspan><tspan x="159.3" y="4039">Tensor</tspan></text></g>
</g>
</svg>
